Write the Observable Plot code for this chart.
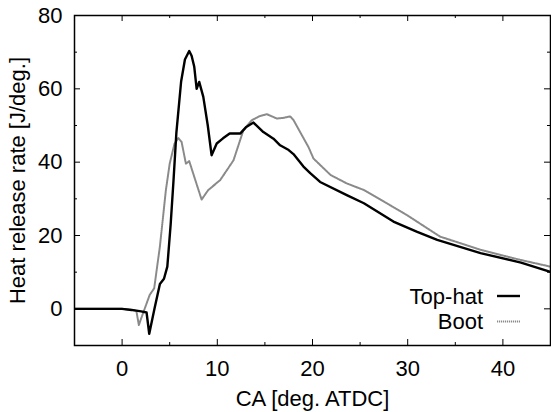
<!DOCTYPE html>
<html>
<head>
<meta charset="utf-8">
<script src="https://cdn.jsdelivr.net/npm/d3@7"></script>
<script src="https://cdn.jsdelivr.net/npm/@observablehq/plot@0.6"></script>
<style>
  html, body { margin: 0; padding: 0; background: #fff; }
  #chart { position: relative; width: 551px; height: 412px; }
</style>
</head>
<body>
<div id="chart"></div>
<script>
// Top-hat series (crank angle, heat release rate)
const topHatCA = [-5, -2, 0, 1, 2, 2.57, 2.85, 3.4, 3.97, 4.4, 4.75, 5.1, 5.4, 5.7, 6.2, 6.6, 7.05, 7.3, 7.58, 7.83, 8.1, 8.53, 9.0, 9.4, 9.94, 10.6, 11.3, 12.4, 13.0, 13.8, 14.84, 15.9, 16.6, 17.5, 18.0, 19.05, 19.76, 20.8, 23.6, 25.4, 28.5, 31, 33.1, 37.65, 41.9, 45];
const topHatHRR = [0, 0, 0, -0.3, -0.7, -1.0, -6.8, 0, 6.8, 8.2, 11.5, 23, 35, 48, 62, 68, 70.3, 69, 66, 60, 61.9, 57.8, 50, 41.9, 45.1, 46.5, 47.8, 47.8, 49.5, 50.8, 48.2, 46.4, 44.6, 43.3, 42.2, 38.8, 37.0, 34.6, 31.0, 28.8, 23.8, 21, 18.8, 15.2, 12.6, 10.1];
// Boot series
const bootCA = [-5, -2, 0, 1, 1.5, 1.76, 2.2, 2.9, 3.37, 3.97, 4.6, 5.0, 5.5, 5.9, 6.25, 6.7, 7.05, 7.47, 8.35, 9.05, 10.3, 11.7, 12.74, 13.6, 14.4, 15.2, 16.25, 17.0, 17.65, 18.0, 18.7, 19.6, 20.1, 21.9, 23.6, 25.4, 27, 29.9, 33.4, 37.65, 41.9, 45];
const bootHRR = [0, 0, 0, -0.3, -0.6, -4.4, -1.2, 3.8, 5.6, 17, 32.4, 39.6, 45, 46.6, 45.5, 39.6, 40.3, 36.9, 29.8, 32.4, 35.1, 40.5, 48.7, 51.4, 52.5, 53.1, 51.9, 52.1, 52.5, 51.5, 48.2, 44, 41, 36.5, 34.2, 32.4, 30, 25.6, 19.7, 16.1, 13.3, 11.5];

const seriesNames = ["Top-hat", "Boot"];
const xMajor = [0, 10, 20, 30, 40];
const xMinor = [5, 15, 25, 35];
const yMajor = [0, 20, 40, 60, 80];
const yMinor = [-10, 10, 30, 50, 70];

const topHat = topHatCA.map((x, i) => ({x, y: topHatHRR[i]}));
const boot = bootCA.map((x, i) => ({x, y: bootHRR[i]}));

const W = 551, H = 412, mL = 74, mR = 1, mT = 15, mB = 67;
const pw = W - mL - mR, ph = H - mT - mB;
const FONT = "'Liberation Sans', Arial, Helvetica, sans-serif";
const FS = 22;

const plot = Plot.plot({
  width: W, height: H,
  marginLeft: mL, marginRight: mR, marginTop: mT, marginBottom: mB,
  style: {fontFamily: FONT, fontSize: FS + "px", color: "#000", background: "#fff"},
  x: {domain: [-5, 45]},
  y: {domain: [-10, 80]},
  marks: [
    Plot.line(boot, {x: "x", y: "y", stroke: "#8a8a8a", strokeWidth: 2, strokeDasharray: "1.2,0.8", clip: true}),
    Plot.line(topHat, {x: "x", y: "y", stroke: "#000", strokeWidth: 2.4, clip: true}),
    // inner ticks, bottom & top
    Plot.tickX(xMajor, {x: d => d, insetTop: ph - 6, stroke: "#000", strokeWidth: 1}),
    Plot.tickX(xMajor, {x: d => d, insetBottom: ph - 6, stroke: "#000", strokeWidth: 1}),
    Plot.tickX(xMinor, {x: d => d, insetTop: ph - 3, stroke: "#000", strokeWidth: 1}),
    Plot.tickX(xMinor, {x: d => d, insetBottom: ph - 3, stroke: "#000", strokeWidth: 1}),
    // inner ticks, left & right
    Plot.tickY(yMajor, {y: d => d, insetRight: pw - 6, stroke: "#000", strokeWidth: 1}),
    Plot.tickY(yMajor, {y: d => d, insetLeft: pw - 6, stroke: "#000", strokeWidth: 1}),
    Plot.tickY(yMinor, {y: d => d, insetRight: pw - 3, stroke: "#000", strokeWidth: 1}),
    Plot.tickY(yMinor, {y: d => d, insetLeft: pw - 3, stroke: "#000", strokeWidth: 1}),
    Plot.axisX({ticks: xMajor, tickSize: 0, tickPadding: 15, fontSize: FS,
      label: "CA [deg. ATDC]", labelAnchor: "center", labelOffset: 60, labelArrow: "none"}),
    Plot.axisY({ticks: yMajor, tickSize: 0, tickPadding: 12, fontSize: FS,
      label: "Heat release rate [J/deg.]", labelAnchor: "center", labelOffset: 65, labelArrow: "none"}),
    Plot.frame({stroke: "#000", strokeWidth: 1.5})
  ]
});

document.getElementById("chart").appendChild(plot);

// legend inside the plot, bottom right
const svg = d3.select(plot);
const leg = svg.append("g").attr("font-family", FONT).attr("font-size", FS);
const legendStyles = [
  {stroke: "#000", width: 2.4, dash: null},
  {stroke: "#8a8a8a", width: 2, dash: "1.2,0.8"}
];
seriesNames.forEach((name, i) => {
  const cy = 296 + i * 25.5;
  leg.append("text").attr("x", 483).attr("y", cy).attr("dy", "0.35em")
    .attr("text-anchor", "end").attr("fill", "#000").text(name);
  leg.append("line").attr("x1", 497).attr("x2", 520).attr("y1", cy).attr("y2", cy)
    .attr("stroke", legendStyles[i].stroke).attr("stroke-width", legendStyles[i].width)
    .attr("stroke-dasharray", legendStyles[i].dash);
});
</script>
</body>
</html>
